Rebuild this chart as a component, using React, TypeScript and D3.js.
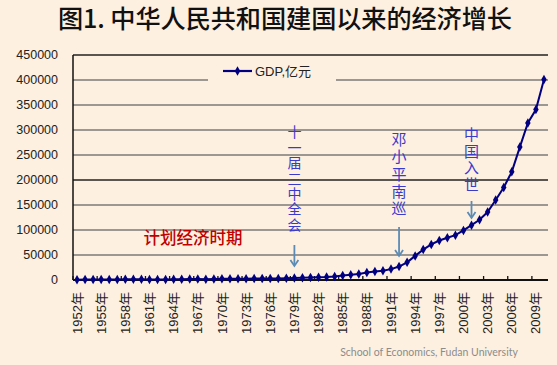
import React from "react";
import * as d3 from "d3";

const years: number[] = d3.range(1952, 2011);
const gdp: number[] = [
  679.0, 824.2, 859.4, 910.8, 1029.0, 1069.3, 1308.2, 1440.4, 1457.5, 1220.9,
  1151.2, 1236.4, 1455.5, 1717.2, 1873.1, 1780.3, 1730.2, 1945.8, 2261.3, 2435.3,
  2530.2, 2733.4, 2803.7, 3013.1, 2961.5, 3221.1, 3645.2, 4062.6, 4545.6, 4891.6,
  5323.4, 5962.7, 7208.1, 9016.0, 10275.2, 12058.6, 15042.8, 16992.3, 18667.8, 21781.5,
  26923.5, 35333.9, 48197.9, 60793.7, 71176.6, 78973.0, 84402.3, 89677.1, 99214.6, 109655.2,
  120332.7, 135822.8, 159878.3, 184937.4, 216314.4, 265810.3, 314045.4, 340902.8, 401202.0,
];
const yTicks: number[] = d3.range(0, 450001, 50000);
const titleText = "图1. 中华人民共和国建国以来的经济增长";
const legendLabel = "GDP,亿元";
const annotations = [
  { year: 1979, text: "十一届三中全会", yTop: 125, step: 15.4, size: 14, arrowFrom: 245, arrowTo: 266 },
  { year: 1992, text: "邓小平南巡", yTop: 132, step: 17.2, size: 15, arrowFrom: 227, arrowTo: 256 },
  { year: 2001, text: "中国入世", yTop: 127, step: 16.6, size: 15, arrowFrom: 201, arrowTo: 218 },
];
const periodLabel = "计划经济时期";
const footer = "School of Economics, Fudan University";

export default function App() {
  const W = 557, H = 365;
  const left = 73, right = 548, top = 55, bottom = 280;
  const x = d3.scaleBand<number>().domain(years).range([left, right]).padding(0);
  const bw = x.bandwidth();
  const cx = (yr: number) => (x(yr) as number) + bw / 2;
  const y = d3.scaleLinear().domain([0, 450000]).range([bottom, top]);
  const line = d3.line<number>().x((_, i) => cx(years[i])).y((d) => y(d));
  const diamond = d3.symbol().type(d3.symbolDiamond).size(26)() as string;
  const cjk = "'Noto Sans CJK SC', 'Liberation Sans', sans-serif";
  const sans = "'Liberation Sans', 'Noto Sans CJK SC', sans-serif";

  return (
    <svg width={W} height={H} style={{ display: "block", position: "absolute", left: 0, top: 0 }}>
      <rect x={0} y={0} width={W} height={H} fill="#fdf0e0" />
      <text x={58} y={28} fontFamily={cjk} fontSize={25.2} fontWeight={500} fill="#111" textLength={454} lengthAdjust="spacing">{titleText}</text>
      {/* gridlines */}
      {yTicks.map((t) => (
        <line key={t} x1={left} x2={right} y1={y(t)} y2={y(t)}
          stroke={t === 200000 || t === 450000 ? "#222" : "#7a7a7a"} strokeWidth={1.3} />
      ))}
      {/* y labels */}
      {yTicks.map((t) => (
        <text key={"l" + t} x={58} y={y(t)} dy="0.35em" textAnchor="end" fontFamily={sans} fontSize={12.5} fill="#222">{t}</text>
      ))}
      {/* legend box */}
      <rect x={208} y={62} width={128} height={26} fill="#fdf0e0" />
      <line x1={223} x2={252} y1={71} y2={71} stroke="#000080" strokeWidth={2.2} />
      <path d={diamond} transform="translate(237.5,71)" fill="#000080" />
      <text x={255} y={71} dy="0.35em" fontFamily={sans} fontSize={13} fill="#222">{legendLabel}</text>
      {/* axes */}
      <line x1={left} x2={left} y1={top} y2={bottom} stroke="#111" strokeWidth={1.5} />
      <line x1={left} x2={right} y1={bottom} y2={bottom} stroke="#111" strokeWidth={1.8} />
      {years.map((yr, i) =>
        i % 3 === 0 ? (
          <g key={"t" + yr}>
            <line x1={x(yr)} x2={x(yr)} y1={bottom} y2={bottom - 4} stroke="#111" strokeWidth={1.3} />
            <text transform={`translate(${cx(yr)},292) rotate(-90)`} dy="0.35em" textAnchor="end"
              fontFamily={sans} fontSize={13} fill="#222">{yr}年</text>
          </g>
        ) : null
      )}
      {/* series */}
      <path d={line(gdp) as string} fill="none" stroke="#000080" strokeWidth={2} />
      {gdp.map((v, i) => (
        <path key={"m" + i} d={diamond} transform={`translate(${cx(years[i])},${y(v)})`} fill="#000080" />
      ))}
      {/* annotations */}
      {annotations.map((a) => {
        const ax = cx(a.year);
        return (
          <g key={a.text}>
            <text x={ax} y={a.yTop} writingMode="tb" style={{ writingMode: "vertical-rl" }}
              letterSpacing={a.step - a.size} fontFamily={cjk} fontSize={a.size} fill="#3a3acc">{a.text}</text>
            <line x1={ax} x2={ax} y1={a.arrowFrom} y2={a.arrowTo - 1} stroke="#5b8bb5" strokeWidth={1.8} />
            <path d={`M${ax - 4},${a.arrowTo - 6} L${ax},${a.arrowTo} L${ax + 4},${a.arrowTo - 6}`} fill="none" stroke="#5b8bb5" strokeWidth={1.8} />
          </g>
        );
      })}
      <text x={193} y={238} dy="0.35em" textAnchor="middle" fontFamily={cjk} fontSize={16.5} fontWeight={500} fill="#c00000">{periodLabel}</text>
      <text x={429} y={352} dy="0.35em" textAnchor="middle" fontFamily="Lato, 'Open Sans', sans-serif" fontSize={10.5} fill="#8c8c8c">{footer}</text>
    </svg>
  );
}
